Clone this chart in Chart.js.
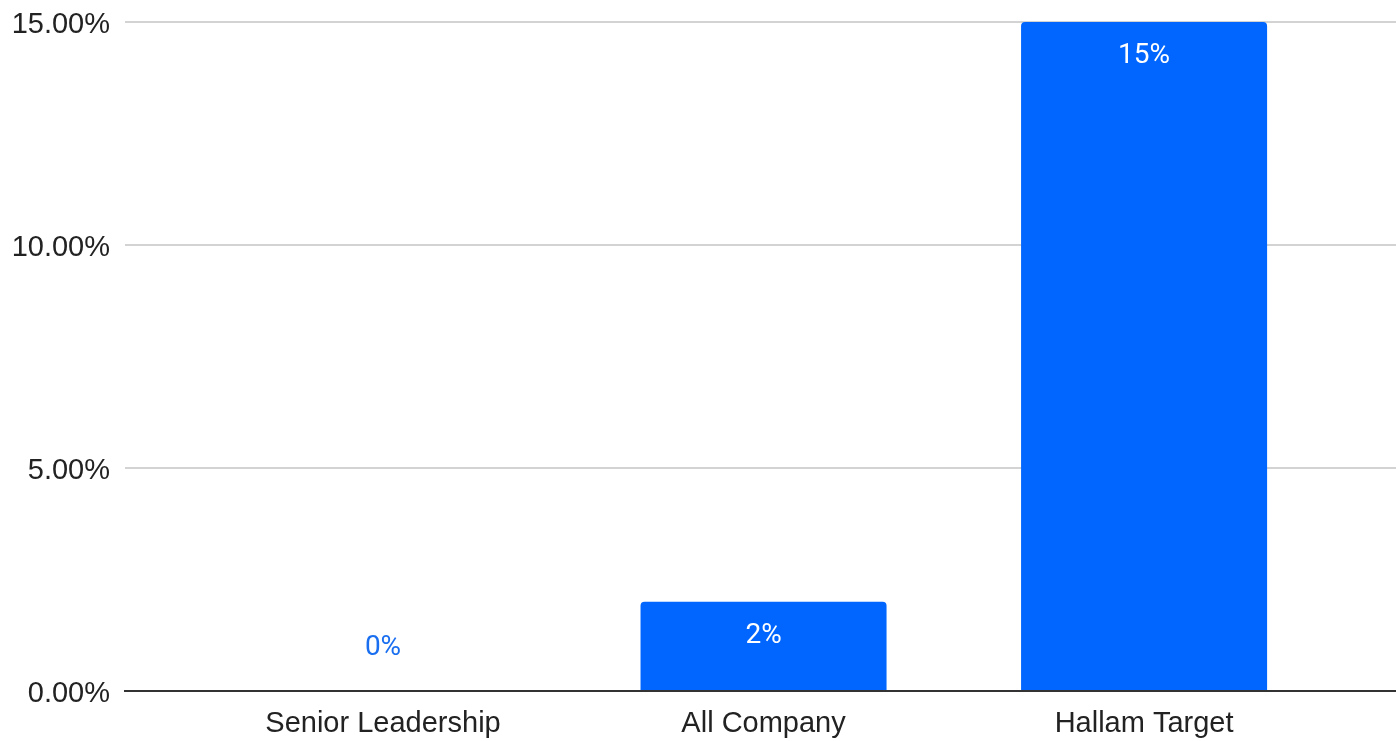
<!DOCTYPE html>
<html>
<head>
<meta charset="utf-8">
<script src="https://cdn.jsdelivr.net/npm/chart.js@4"></script>
<style>
  html, body { margin: 0; padding: 0; background: #ffffff; }
  #wrap { width: 1396px; height: 741px; position: relative; }
</style>
</head>
<body>
<div id="wrap"><canvas id="chart"></canvas></div>
<script>
// Share of representation, in percent
const categories = ['Senior Leadership', 'All Company', 'Hallam Target'];
const shares = [0, 2, 15];
const yTicks = [0, 5, 10, 15];

const BAR_BLUE = '#0066ff';
const LABEL_FONT = '28px Roboto, "Liberation Sans", Arial, sans-serif';
const AXIS_FONT = { family: '"Liberation Sans", Arial, sans-serif', size: 29 };

// Writes each bar's value: inside the bar in white when it is tall enough,
// otherwise just above the bar in the series colour.
const valueLabels = {
  id: 'valueLabels',
  afterDatasetsDraw(chart) {
    const ctx = chart.ctx;
    const meta = chart.getDatasetMeta(0);
    ctx.save();
    ctx.font = LABEL_FONT;
    ctx.textAlign = 'center';
    ctx.textBaseline = 'middle';
    meta.data.forEach((bar, i) => {
      const value = shares[i];
      const text = value + '%';
      const height = bar.base - bar.y;
      if (height > 60) {
        ctx.fillStyle = '#ffffff';
        ctx.fillText(text, bar.x, bar.y + 34);
      } else {
        ctx.fillStyle = '#1a6ff0';
        ctx.fillText(text, bar.x, bar.y - 43);
      }
    });
    ctx.restore();
  }
};

new Chart(document.getElementById('chart'), {
  type: 'bar',
  data: {
    datasets: [{
      data: shares.map((v, i) => ({ x: i, y: v })),
      backgroundColor: BAR_BLUE,
      borderRadius: 4,
      categoryPercentage: 1,
      barPercentage: 0.6465
    }]
  },
  options: {
    responsive: true,
    maintainAspectRatio: false,
    animation: false,
    layout: { padding: { left: 0, right: 0, top: 22, bottom: 0 } },
    plugins: {
      legend: { display: false },
      tooltip: { enabled: false }
    },
    scales: {
      x: {
        type: 'linear',
        offset: false,
        min: -0.678,
        max: 2.662,
        afterBuildTicks(scale) {
          scale.ticks = categories.map((_, i) => ({ value: i }));
        },
        afterFit(scale) {
          scale.height = 50;
          scale.paddingLeft = 0;
          scale.paddingRight = 0;
        },
        ticks: {
          autoSkip: false,
          maxRotation: 0,
          color: '#222222',
          font: AXIS_FONT,
          padding: 16,
          callback: (v) => categories[v]
        },
        grid: { display: false, drawTicks: false },
        border: { display: true, color: '#333333', width: 2 }
      },
      y: {
        min: 0,
        max: 15,
        afterBuildTicks(scale) {
          scale.ticks = yTicks.map(v => ({ value: v }));
        },
        afterFit(scale) {
          scale.width = 125;
          scale.paddingTop = 0;
          scale.paddingBottom = 0;
        },
        ticks: {
          color: '#222222',
          font: AXIS_FONT,
          padding: 15,
          labelOffset: 3,
          callback: (v) => v.toFixed(2) + '%'
        },
        grid: {
          drawTicks: false,
          lineWidth: 2,
          color: (c) => (c.tick && c.tick.value === 0) ? 'rgba(0,0,0,0)' : '#d3d3d3'
        },
        border: { display: false }
      }
    }
  },
  plugins: [valueLabels]
});
</script>
</body>
</html>
